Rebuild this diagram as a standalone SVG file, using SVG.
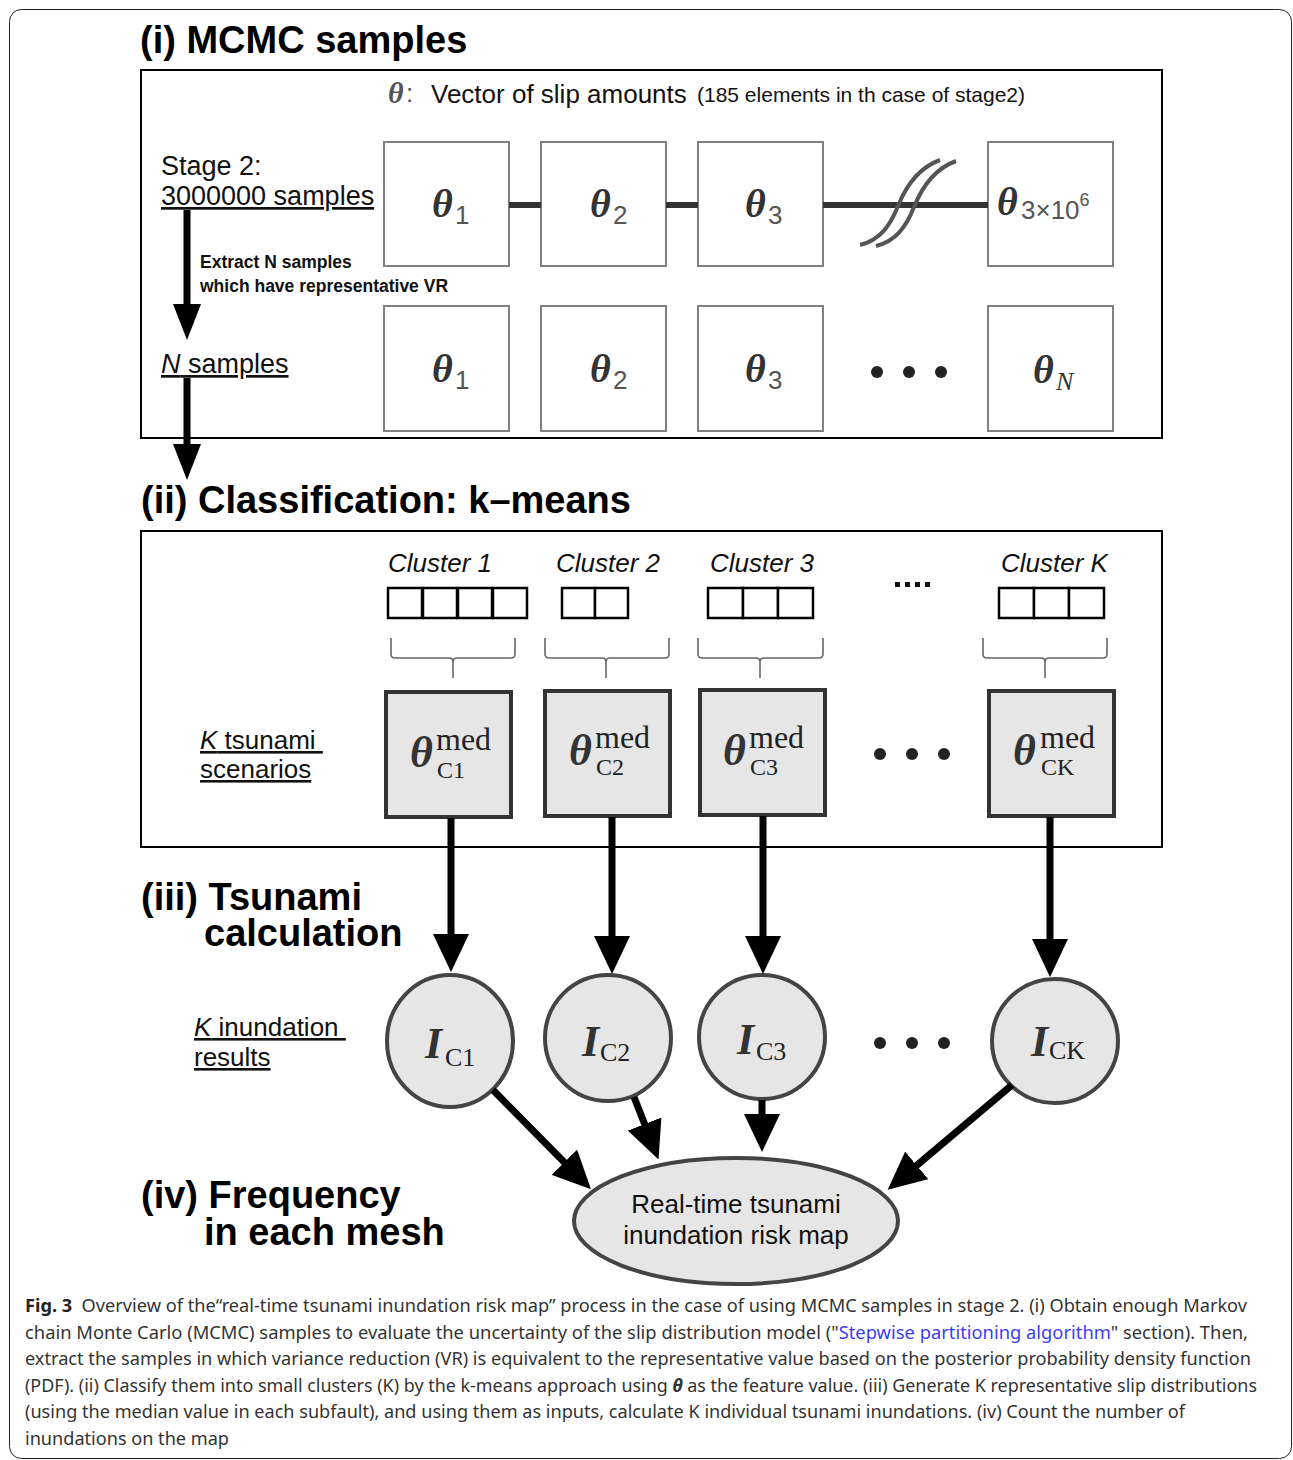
<svg xmlns="http://www.w3.org/2000/svg" width="1293" height="1460" viewBox="0 0 1293 1460">
<style>
.title{font-family:'Liberation Sans',Arial,sans-serif;font-weight:bold;font-size:38px;fill:#000}
.sans{font-family:'Liberation Sans',Arial,sans-serif;fill:#111}
.ser{font-family:'Liberation Serif','Times New Roman',serif}
.th{font-family:'Liberation Serif','Times New Roman',serif;font-weight:bold;font-style:italic;fill:#333}
.sub{font-family:'Liberation Sans',Arial,sans-serif;fill:#555}
.frame{fill:none;stroke:#000;stroke-width:2}
.sbox{fill:#fff;stroke:#808080;stroke-width:2}
.mbox{fill:#e6e6e6;stroke:#333;stroke-width:4}
.circ{fill:#e6e6e6;stroke:#444;stroke-width:4}
.csq{fill:#fff;stroke:#000;stroke-width:2.5}
.brace{fill:none;stroke:#666;stroke-width:1.6}
.conn{stroke:#000;stroke-width:7;fill:none}
.cap{font-family:'Noto Sans','Open Sans',sans-serif;font-size:18px;fill:#333}
</style>
<defs>
<marker id="ah" markerUnits="userSpaceOnUse" markerWidth="40" markerHeight="36" viewBox="0 0 40 36" refX="1" refY="18" orient="auto">
<path d="M0,0 L38,18 L0,36 z" fill="#000"/>
</marker>
<marker id="ahs" markerUnits="userSpaceOnUse" markerWidth="38" markerHeight="28" viewBox="0 0 38 28" refX="1" refY="14" orient="auto">
<path d="M0,0 L36,14 L0,28 z" fill="#000"/>
</marker>
</defs>
<rect x="9.5" y="9.5" width="1282" height="1449" rx="12" fill="#fff" stroke="#222" stroke-width="1"/>

<!-- Section (i) -->
<text class="title" x="140" y="53">(i) MCMC samples</text>
<rect class="frame" x="141" y="70" width="1021" height="368"/>
<g id="header">
<text class="th" x="388" y="103" font-size="30" style="fill:#555">θ</text>
<text class="sans" x="406" y="102" font-size="26" style="fill:#555">:</text>
<text class="sans" x="431" y="103" font-size="26">Vector of slip amounts</text>
<text class="sans" x="697" y="102" font-size="21">(185 elements in th case of stage2)</text>
</g>
<g id="stage2-label">
<text class="sans" x="161" y="175" font-size="27">Stage 2:</text>
<text class="sans" x="161" y="205" font-size="27" text-decoration="underline">3000000 samples</text>
</g>
<g id="extract-label">
<text class="sans" x="200" y="268" font-size="17.5" font-weight="bold">Extract N samples</text>
<text class="sans" x="200" y="292" font-size="17.5" font-weight="bold">which have representative VR</text>
</g>
<g id="n-samples-label">
<text class="sans" x="161" y="373" font-size="27" text-decoration="underline"><tspan font-style="italic">N</tspan> samples</text>
</g>

<g id="s1">
<rect class="sbox" x="384" y="142" width="125" height="124"/>
<text class="th" x="432" y="217" font-size="40">θ</text><text class="sub" x="455" y="224" font-size="26">1</text>
</g>
<g id="s2">
<rect class="sbox" x="541" y="142" width="125" height="124"/>
<text class="th" x="590" y="217" font-size="40">θ</text><text class="sub" x="613" y="224" font-size="26">2</text>
</g>
<g id="s3">
<rect class="sbox" x="698" y="142" width="125" height="124"/>
<text class="th" x="745" y="217" font-size="40">θ</text><text class="sub" x="768" y="224" font-size="26">3</text>
</g>
<g id="s4">
<rect class="sbox" x="988" y="142" width="125" height="124"/>
<text class="th" x="997" y="215" font-size="40">θ</text>
<text class="sub" x="1021" y="219" font-size="26">3×10<tspan dy="-13" font-size="18">6</tspan></text>
</g>
<g id="n1">
<rect class="sbox" x="384" y="306" width="125" height="125"/>
<text class="th" x="432" y="382" font-size="40">θ</text><text class="sub" x="455" y="389" font-size="26">1</text>
</g>
<g id="n2">
<rect class="sbox" x="541" y="306" width="125" height="125"/>
<text class="th" x="590" y="382" font-size="40">θ</text><text class="sub" x="613" y="389" font-size="26">2</text>
</g>
<g id="n3">
<rect class="sbox" x="698" y="306" width="125" height="125"/>
<text class="th" x="745" y="382" font-size="40">θ</text><text class="sub" x="768" y="389" font-size="26">3</text>
</g>
<g id="ndots">
<circle cx="877" cy="372" r="6" fill="#222"/><circle cx="909" cy="372" r="6" fill="#222"/><circle cx="941" cy="372" r="6" fill="#222"/>
</g>
<g id="nN">
<rect class="sbox" x="988" y="306" width="125" height="125"/>
<text class="th" x="1033" y="383" font-size="40">θ</text><text class="ser" x="1056" y="390" font-size="26" font-style="italic" fill="#333">N</text>
</g>

<!-- Section (ii) -->
<text class="title" x="141" y="513">(ii) Classification: k–means</text>
<rect class="frame" x="141" y="531" width="1021" height="316"/>
<g id="k-scen-label">
<text class="sans" x="200" y="749" font-size="26" text-decoration="underline" xml:space="preserve"><tspan font-style="italic">K</tspan> tsunami </text>
<text class="sans" x="200" y="778" font-size="26" text-decoration="underline">scenarios</text>
</g>
<g id="cluster1">
<text class="sans" x="388" y="572" font-size="26" font-style="italic">Cluster 1</text>
<rect class="csq" x="388" y="588" width="34" height="30"/><rect class="csq" x="423" y="588" width="34" height="30"/><rect class="csq" x="458" y="588" width="34" height="30"/><rect class="csq" x="493" y="588" width="34" height="30"/>
<path class="brace" d="M391,638 V654 Q391,658 395,658 H449 Q453,658 453,662 V678 M453,662 Q453,658 457,658 H511 Q515,658 515,654 V638"/>
</g>
<g id="cluster2">
<text class="sans" x="556" y="572" font-size="26" font-style="italic">Cluster 2</text>
<rect class="csq" x="562" y="588" width="33" height="30"/><rect class="csq" x="595" y="588" width="33" height="30"/>
<path class="brace" d="M545,638 V654 Q545,658 549,658 H602 Q606,658 606,662 V678 M606,662 Q606,658 610,658 H665 Q669,658 669,654 V638"/>
</g>
<g id="cluster3">
<text class="sans" x="710" y="572" font-size="26" font-style="italic">Cluster 3</text>
<rect class="csq" x="708" y="588" width="35" height="30"/><rect class="csq" x="743" y="588" width="35" height="30"/><rect class="csq" x="778" y="588" width="35" height="30"/>
<path class="brace" d="M698,638 V654 Q698,658 702,658 H756 Q760,658 760,662 V678 M760,662 Q760,658 764,658 H819 Q823,658 823,654 V638"/>
</g>
<g id="cdots">
<rect x="895" y="582" width="5" height="5" fill="#111"/><rect x="905" y="582" width="5" height="5" fill="#111"/><rect x="915" y="582" width="5" height="5" fill="#111"/><rect x="925" y="582" width="5" height="5" fill="#111"/>
</g>
<g id="clusterK">
<text class="sans" x="1001" y="572" font-size="26" font-style="italic">Cluster K</text>
<rect class="csq" x="999" y="588" width="35" height="30"/><rect class="csq" x="1034" y="588" width="35" height="30"/><rect class="csq" x="1069" y="588" width="35" height="30"/>
<path class="brace" d="M983,638 V654 Q983,658 987,658 H1041 Q1045,658 1045,662 V678 M1045,662 Q1045,658 1049,658 H1103 Q1107,658 1107,654 V638"/>
</g>
<g id="m1">
<rect class="mbox" x="386" y="692" width="125" height="125"/>
<text class="th" x="410" y="767" font-size="44">θ</text><text class="ser" x="436" y="750" font-size="32" fill="#222">med</text><text class="ser" x="437" y="778" font-size="24" fill="#222">C1</text>
</g>
<g id="m2">
<rect class="mbox" x="545" y="691" width="125" height="125"/>
<text class="th" x="569" y="765" font-size="44">θ</text><text class="ser" x="595" y="748" font-size="32" fill="#222">med</text><text class="ser" x="596" y="775" font-size="24" fill="#222">C2</text>
</g>
<g id="m3">
<rect class="mbox" x="700" y="690" width="125" height="125"/>
<text class="th" x="723" y="765" font-size="44">θ</text><text class="ser" x="749" y="748" font-size="32" fill="#222">med</text><text class="ser" x="750" y="775" font-size="24" fill="#222">C3</text>
</g>
<g id="mdots">
<circle cx="880" cy="754" r="6" fill="#222"/><circle cx="912" cy="754" r="6" fill="#222"/><circle cx="944" cy="754" r="6" fill="#222"/>
</g>
<g id="mK">
<rect class="mbox" x="989" y="691" width="125" height="125"/>
<text class="th" x="1013" y="765" font-size="44">θ</text><text class="ser" x="1040" y="748" font-size="32" fill="#222">med</text><text class="ser" x="1041" y="775" font-size="24" fill="#222">CK</text>
</g>

<!-- Section (iii) -->
<text class="title" x="141" y="910">(iii) Tsunami</text>
<text class="title" x="204" y="946">calculation</text>
<g id="k-inund-label">
<text class="sans" x="194" y="1036" font-size="26" text-decoration="underline" xml:space="preserve"><tspan font-style="italic">K</tspan> inundation </text>
<text class="sans" x="194" y="1066" font-size="26" text-decoration="underline">results</text>
</g>
<g id="i1">
<ellipse class="circ" cx="450" cy="1041" rx="63" ry="66"/>
<text class="th" x="425" y="1058" font-size="44">I</text><text class="ser" x="445" y="1066" font-size="26" fill="#222">C1</text>
</g>
<g id="i2">
<ellipse class="circ" cx="608" cy="1038" rx="63" ry="63"/>
<text class="th" x="582" y="1056" font-size="44">I</text><text class="ser" x="600" y="1061" font-size="26" fill="#222">C2</text>
</g>
<g id="i3">
<ellipse class="circ" cx="762" cy="1037" rx="63" ry="62"/>
<text class="th" x="737" y="1054" font-size="44">I</text><text class="ser" x="756" y="1060" font-size="26" fill="#222">C3</text>
</g>
<g id="idots">
<circle cx="880" cy="1043" r="6" fill="#222"/><circle cx="912" cy="1043" r="6" fill="#222"/><circle cx="944" cy="1043" r="6" fill="#222"/>
</g>
<g id="iK">
<ellipse class="circ" cx="1055" cy="1041" rx="63" ry="62"/>
<text class="th" x="1031" y="1056" font-size="44">I</text><text class="ser" x="1049" y="1059" font-size="26" fill="#222">CK</text>
</g>

<!-- Section (iv) -->
<text class="title" x="141" y="1208">(iv) Frequency</text>
<text class="title" x="204" y="1245">in each mesh</text>
<g id="riskmap">
<ellipse class="circ" cx="736" cy="1221" rx="162" ry="63"/>
<text class="sans" x="736" y="1213" font-size="26" text-anchor="middle">Real-time tsunami</text>
<text class="sans" x="736" y="1244" font-size="26" text-anchor="middle">inundation risk map</text>
</g>

<!-- Connectors -->
<g id="connectors">
<line x1="509" y1="205" x2="541" y2="205" stroke="#333" stroke-width="6"/>
<line x1="666" y1="205" x2="698" y2="205" stroke="#333" stroke-width="6"/>
<line x1="823" y1="205" x2="988" y2="205" stroke="#333" stroke-width="6"/>
<path d="M860,245 C880,240 890,226 898,206 C906,186 918,168 940,160" fill="none" stroke="#555" stroke-width="4"/>
<path d="M876,246 C896,241 906,227 914,207 C922,187 934,169 956,161" fill="none" stroke="#555" stroke-width="4"/>
<line class="conn" x1="187" y1="210" x2="187" y2="305" stroke-width="8" marker-end="url(#ahs)"/>
<line class="conn" x1="187" y1="378" x2="187" y2="445" stroke-width="8" marker-end="url(#ahs)"/>
<line class="conn" x1="451" y1="818" x2="451" y2="935" marker-end="url(#ah)"/>
<line class="conn" x1="612" y1="817" x2="612" y2="937" marker-end="url(#ah)"/>
<line class="conn" x1="763" y1="816" x2="763" y2="937" marker-end="url(#ah)"/>
<line class="conn" x1="1050" y1="817" x2="1050" y2="940" marker-end="url(#ah)"/>
<line class="conn" x1="493" y1="1090" x2="565" y2="1163" marker-end="url(#ah)"/>
<line class="conn" x1="634" y1="1097" x2="645" y2="1125" marker-end="url(#ah)"/>
<line class="conn" x1="762" y1="1100" x2="762" y2="1115" marker-end="url(#ah)"/>
<line class="conn" x1="1012" y1="1085" x2="916" y2="1166" marker-end="url(#ah)"/>
</g>

<!-- Caption -->
<g id="caption">
<text class="cap" x="25" y="1312" textLength="1222" lengthAdjust="spacingAndGlyphs" xml:space="preserve"><tspan font-weight="bold" fill="#222">Fig. 3</tspan>  Overview of the“real-time tsunami inundation risk map” process in the case of using MCMC samples in stage 2. (i) Obtain enough Markov</text>
<text class="cap" x="25" y="1339" textLength="1223" lengthAdjust="spacingAndGlyphs">chain Monte Carlo (MCMC) samples to evaluate the uncertainty of the slip distribution model ("<tspan fill="#3d3df5">Stepwise partitioning algorithm</tspan>" section). Then,</text>
<text class="cap" x="25" y="1365" textLength="1226" lengthAdjust="spacingAndGlyphs">extract the samples in which variance reduction (VR) is equivalent to the representative value based on the posterior probability density function</text>
<text class="cap" x="25" y="1392" textLength="1232" lengthAdjust="spacingAndGlyphs">(PDF). (ii) Classify them into small clusters (K) by the k-means approach using <tspan font-weight="bold" font-style="italic">θ</tspan> as the feature value. (iii) Generate K representative slip distributions</text>
<text class="cap" x="25" y="1418" textLength="1160" lengthAdjust="spacingAndGlyphs">(using the median value in each subfault), and using them as inputs, calculate K individual tsunami inundations. (iv) Count the number of</text>
<text class="cap" x="25" y="1445" textLength="204" lengthAdjust="spacingAndGlyphs">inundations on the map</text>
</g>
</svg>
